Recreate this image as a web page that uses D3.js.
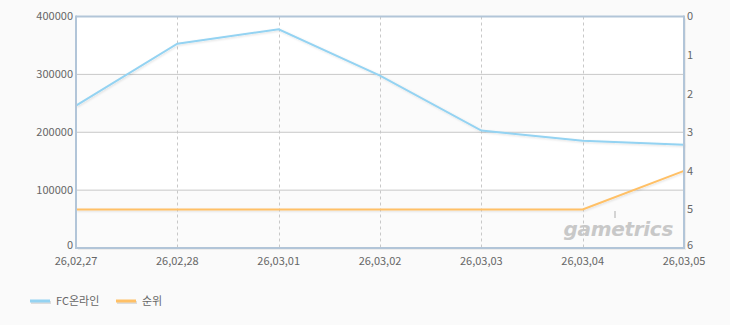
<!DOCTYPE html>
<html>
<head>
<meta charset="utf-8">
<script src="https://cdn.jsdelivr.net/npm/d3@7"></script>
<style>
  body { margin: 0; background: #fafafa; }
  svg { display: block; font-family: "Noto Sans CJK KR", "DejaVu Sans", sans-serif; }
</style>
</head>
<body>
<div id="chart"></div>
<script>
const dates = ['26,02,27', '26,02,28', '26,03,01', '26,03,02', '26,03,03', '26,03,04', '26,03,05'];
const users = [246000, 353000, 378000, 298000, 203000, 185500, 178500];
const ranks = [5, 5, 5, 5, 5, 5, 4];
const leftTicks = [0, 100000, 200000, 300000, 400000];
const rightTicks = [0, 1, 2, 3, 4, 5, 6];
const seriesNames = ['FC온라인', '순위'];
const seriesColors = ['#94d3f2', '#ffc066'];

const W = 730, H = 325;
const margin = { top: 16.5, right: 46, bottom: 77, left: 76 };
const pw = W - margin.left - margin.right;
const ph = H - margin.top - margin.bottom;

const svg = d3.select('#chart').append('svg')
    .attr('width', W)
    .attr('height', H);

const x = d3.scalePoint().domain(dates).range([0, pw]);
const y = d3.scaleLinear().domain([0, 400000]).range([ph, 0]);
const yr = d3.scaleLinear().domain([0, 6]).range([0, ph]);

const defs = svg.append('defs');
const shadow = defs.append('filter').attr('id', 'shadow')
    .attr('x', '-5%').attr('y', '-5%').attr('width', '110%').attr('height', '120%');
shadow.append('feDropShadow')
    .attr('dx', 1).attr('dy', 1).attr('stdDeviation', 1)
    .attr('flood-color', '#000').attr('flood-opacity', 0.12);

const g = svg.append('g')
    .attr('transform', 'translate(' + margin.left + ',' + margin.top + ')');

// frame shadow
g.append('rect')
    .attr('x', 2).attr('y', 2)
    .attr('width', pw).attr('height', ph)
    .attr('fill', '#ececec');

// alternating bands
for (let i = 0; i < leftTicks.length - 1; i++) {
    g.append('rect')
        .attr('x', 0)
        .attr('y', y(leftTicks[i + 1]))
        .attr('width', pw)
        .attr('height', y(leftTicks[i]) - y(leftTicks[i + 1]))
        .attr('fill', i % 2 === 0 ? '#fbfbfb' : '#ffffff');
}

// horizontal grid
g.selectAll('.hgrid')
    .data(leftTicks.slice(1, -1))
  .enter().append('line')
    .attr('x1', 0).attr('x2', pw)
    .attr('y1', d => y(d)).attr('y2', d => y(d))
    .attr('stroke', '#c8c8c8')
    .attr('stroke-width', 1);

// vertical dashed grid
g.selectAll('.vgrid')
    .data(dates.slice(1, -1))
  .enter().append('line')
    .attr('x1', d => Math.round(x(d)) + 0.5).attr('x2', d => Math.round(x(d)) + 0.5)
    .attr('y1', 0).attr('y2', ph)
    .attr('stroke', '#c8c8c8')
    .attr('stroke-dasharray', '3,3')
    .attr('stroke-width', 1);

// watermark
const wm = g.append('g')
    .attr('transform', 'translate(' + (pw - 11) + ',' + (ph - 12) + ')');
wm.append('text')
    .attr('text-anchor', 'end')
    .attr('font-family', 'DejaVu Sans, sans-serif')
    .attr('font-style', 'italic')
    .attr('font-weight', 'bold')
    .attr('font-size', '20px')
    .attr('fill', '#c8c8c8')
    .attr('letter-spacing', '-0.3')
    .text('gametrics');
wm.append('rect')
    .attr('x', -59).attr('y', -25)
    .attr('width', 2).attr('height', 7)
    .attr('fill', '#d4d4d4');

// lines
const userLine = d3.line()
    .x((d, i) => x(dates[i]))
    .y(d => y(d));
const rankLine = d3.line()
    .x((d, i) => x(dates[i]))
    .y(d => yr(d));

g.append('path')
    .datum(ranks)
    .attr('d', rankLine)
    .attr('fill', 'none')
    .attr('stroke', seriesColors[1])
    .attr('stroke-width', 2)
    .attr('filter', 'url(#shadow)');

g.append('path')
    .datum(users)
    .attr('d', userLine)
    .attr('fill', 'none')
    .attr('stroke', seriesColors[0])
    .attr('stroke-width', 2)
    .attr('filter', 'url(#shadow)');

// frame
const frameColor = '#b2c5d8';
g.append('line').attr('x1', 0).attr('x2', pw).attr('y1', 0).attr('y2', 0)
    .attr('stroke', frameColor).attr('stroke-width', 2);
g.append('line').attr('x1', 0).attr('x2', pw).attr('y1', ph).attr('y2', ph)
    .attr('stroke', frameColor).attr('stroke-width', 2);
g.append('line').attr('x1', 0).attr('x2', 0).attr('y1', -1).attr('y2', ph + 1)
    .attr('stroke', frameColor).attr('stroke-width', 2);
g.append('line').attr('x1', pw).attr('x2', pw).attr('y1', -1).attr('y2', ph + 1)
    .attr('stroke', frameColor).attr('stroke-width', 2);

// axes labels
const labelColor = '#666';
g.selectAll('.ly')
    .data(leftTicks)
  .enter().append('text')
    .attr('x', -3)
    .attr('y', d => y(d))
    .attr('dy', d => d === 0 ? '0.1em' : '0.36em')
    .attr('text-anchor', 'end')
    .attr('font-size', '11px')
    .attr('fill', labelColor)
    .text(d => d);

g.selectAll('.ry')
    .data(rightTicks)
  .enter().append('text')
    .attr('x', 3)
    .attr('y', d => yr(d))
    .attr('dy', d => d === 6 ? '0.1em' : '0.36em')
    .attr('transform', 'translate(' + pw + ',0)')
    .attr('font-size', '11px')
    .attr('fill', labelColor)
    .text(d => d);

g.selectAll('.lx')
    .data(dates)
  .enter().append('text')
    .attr('x', d => x(d))
    .attr('y', ph + 17)
    .attr('text-anchor', 'middle')
    .attr('font-size', '11px')
    .attr('fill', labelColor)
    .text(d => d);

// legend
const legend = svg.append('g').attr('transform', 'translate(30,301)');
const legendX = [0, 86];
seriesNames.forEach((name, i) => {
    const lg = legend.append('g').attr('transform', 'translate(' + legendX[i] + ',0)');
    lg.append('line')
        .attr('x1', 1).attr('x2', 21).attr('y1', 1.5).attr('y2', 1.5)
        .attr('stroke', '#ddd').attr('stroke-width', 3);
    lg.append('line')
        .attr('x1', 0).attr('x2', 20).attr('y1', 0).attr('y2', 0)
        .attr('stroke', seriesColors[i]).attr('stroke-width', 3);
    lg.append('text')
        .attr('x', 26)
        .attr('y', 0)
        .attr('dy', '0.36em')
        .attr('font-size', '11px')
        .attr('fill', labelColor)
        .text(name);
});
</script>
</body>
</html>
